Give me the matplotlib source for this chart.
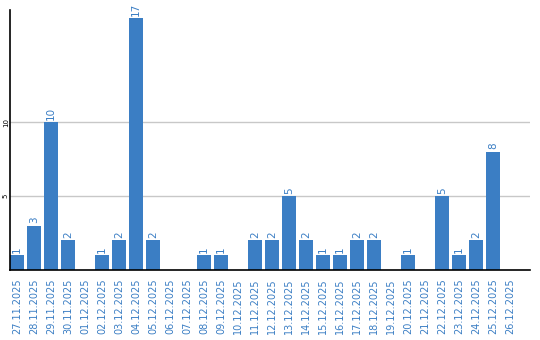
import matplotlib
matplotlib.use('Agg')
import matplotlib.pyplot as plt
import numpy as np

dates = ['27.11.2025', '28.11.2025', '29.11.2025', '30.11.2025', '01.12.2025',
         '02.12.2025', '03.12.2025', '04.12.2025', '05.12.2025', '06.12.2025',
         '07.12.2025', '08.12.2025', '09.12.2025', '10.12.2025', '11.12.2025',
         '12.12.2025', '13.12.2025', '14.12.2025', '15.12.2025', '16.12.2025',
         '17.12.2025', '18.12.2025', '19.12.2025', '20.12.2025', '21.12.2025',
         '22.12.2025', '23.12.2025', '24.12.2025', '25.12.2025', '26.12.2025']
counts = [1, 3, 10, 2, 0, 1, 2, 17, 2, 0,
          0, 1, 1, 0, 2, 2, 5, 2, 1, 1,
          2, 2, 0, 1, 0, 5, 1, 2, 8, 0]
y_ticks = [5, 10]

blue = '#3b7ec4'
W, H = 540, 340
fig = plt.figure(figsize=(W / 100, H / 100), dpi=100)
ax = fig.add_axes([10 / W, 70 / H, 520 / W, 260 / H])

x = np.arange(len(dates))
bw = 14 / 17
ax.bar(x, counts, width=bw, align='edge', color=blue, zorder=2)

for xi, v in zip(x, counts):
    if v > 0:
        ax.text(xi + bw / 2, v + 0.15, str(v), rotation=90, ha='center', va='bottom',
                color=blue, fontsize=7.5)

ax.set_xlim(0, 520 / 17)
ax.set_ylim(0, 260 / 14.8)
ax.set_xticks(x + bw / 2)
ax.set_xticklabels(dates, rotation=90, color=blue, fontsize=7)
ax.set_yticks(y_ticks)
ax.set_yticklabels([str(t) for t in y_ticks], rotation=90, fontsize=5, va='center')
ax.tick_params(axis='both', length=0)
ax.tick_params(axis='x', pad=6)
ax.tick_params(axis='y', pad=0.8)
ax.grid(axis='y', color='#c8c8c8', linewidth=1, zorder=0)
for s in ['top', 'right']:
    ax.spines[s].set_visible(False)
ax.spines['left'].set_linewidth(1.2)
ax.spines['bottom'].set_linewidth(1.2)

fig.savefig('out.png', dpi=100)
